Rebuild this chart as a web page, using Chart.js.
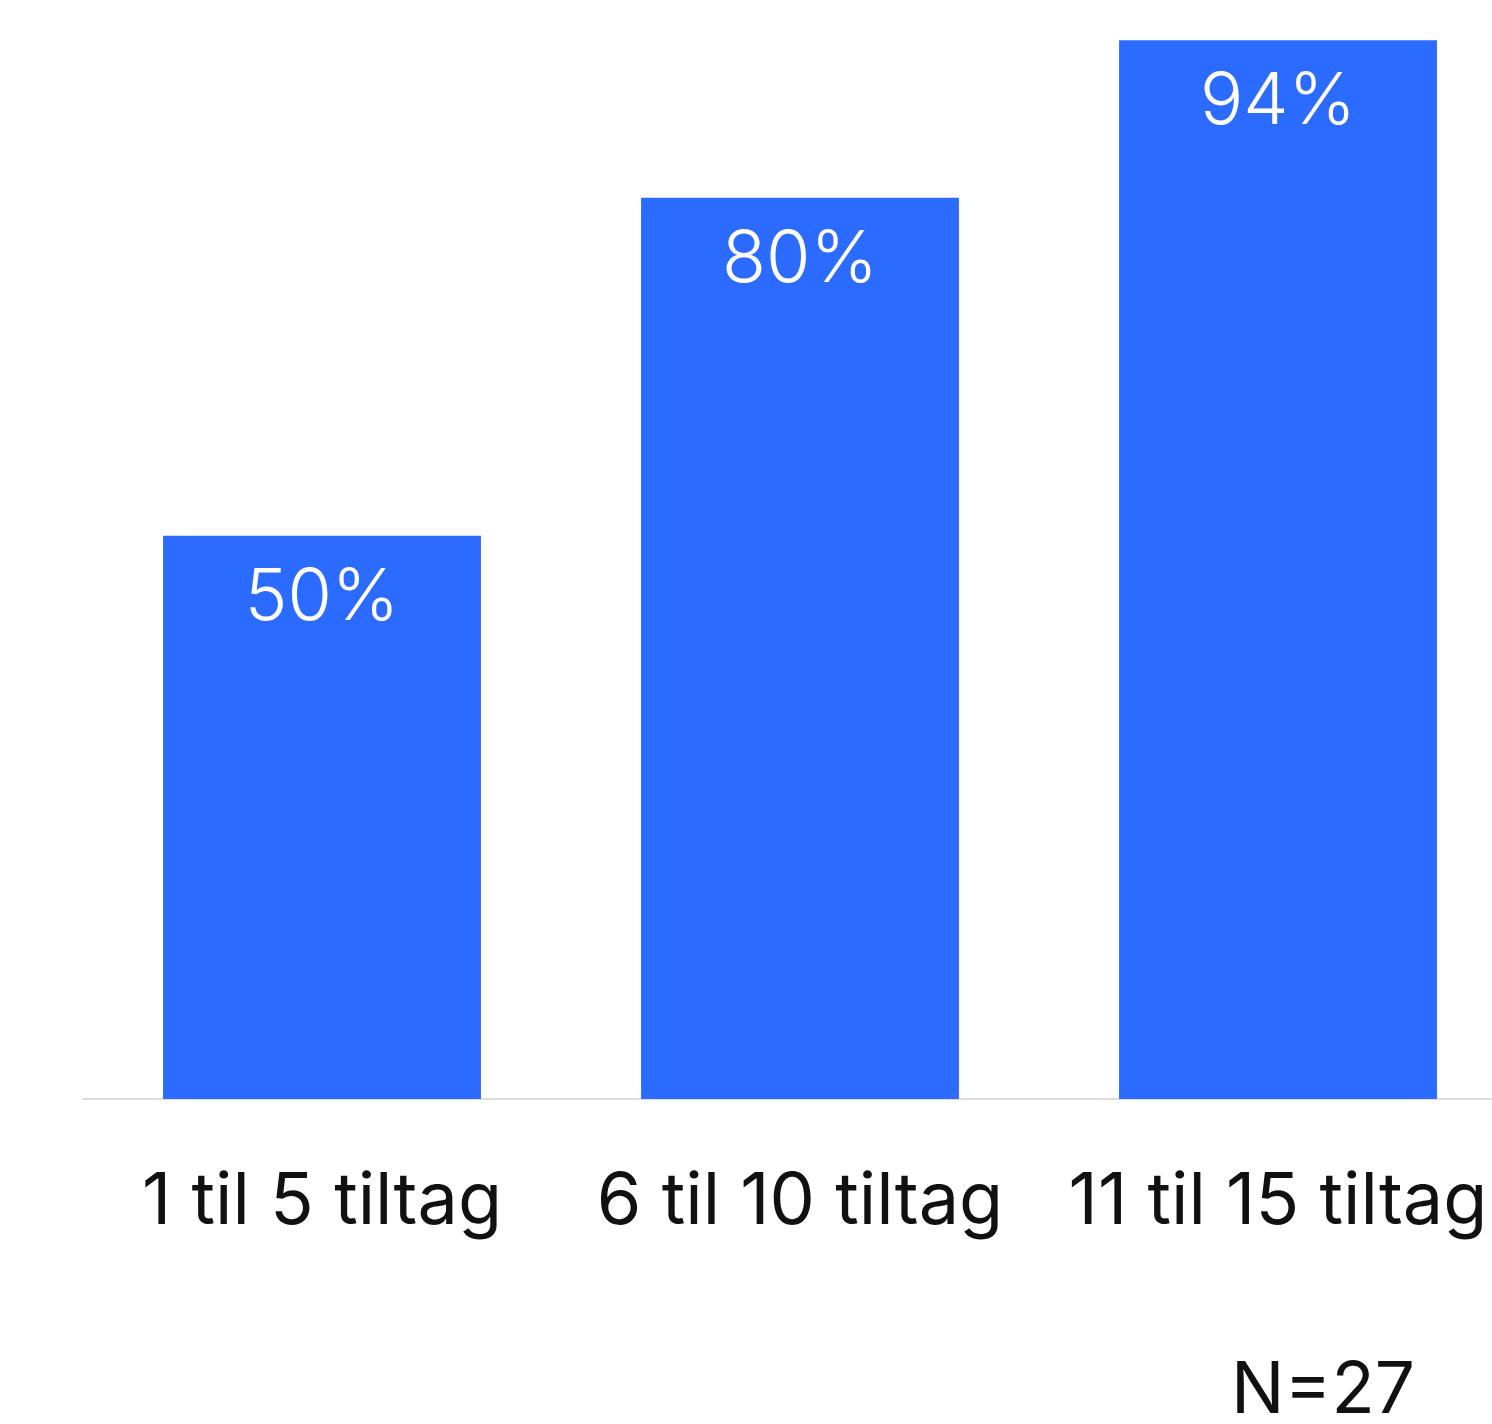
<!DOCTYPE html>
<html>
<head>
<meta charset="utf-8">
<script src="https://cdn.jsdelivr.net/npm/chart.js@4.4.0/dist/chart.umd.min.js"></script>
<style>
    html, body { margin: 0; padding: 0; background: #fff; overflow: hidden; }
    canvas { display: block; }
</style>
</head>
<body>
<canvas id="barChart" width="1517" height="1424"></canvas>
<script>
const categories = ['1 til 5 tiltag', '6 til 10 tiltag', '11 til 15 tiltag'];
const shares = [50, 80, 94];
const sampleNote = 'N=27';

const fontFamily = "Inter, 'DejaVu Sans', sans-serif";

// White percentage labels inside the top of each bar, plus the sample size note
const barLabels = {
    id: 'barLabels',
    afterDatasetsDraw(chart) {
        const ctx = chart.ctx;
        const meta = chart.getDatasetMeta(0);
        ctx.save();
        ctx.fillStyle = '#ffffff';
        ctx.font = '300 72px ' + fontFamily;
        ctx.textAlign = 'center';
        ctx.textBaseline = 'alphabetic';
        meta.data.forEach((bar, i) => {
            ctx.fillText(shares[i] + '%', bar.x, bar.y + 84);
        });
        ctx.fillStyle = '#111111';
        ctx.font = '400 71px ' + fontFamily;
        ctx.fillText(sampleNote, 1323, 1413);
        ctx.restore();
    }
};

const ctx = document.getElementById('barChart').getContext('2d');
const barChart = new Chart(ctx, {
    type: 'bar',
    data: {
        labels: categories,
        datasets: [{
            data: shares,
            backgroundColor: '#2B6BFF',
            borderWidth: 0,
            categoryPercentage: 1,
            barPercentage: 0.665
        }]
    },
    options: {
        responsive: false,
        animation: false,
        layout: {
            padding: { left: 83, top: 3, right: 0, bottom: 0 }
        },
        plugins: {
            legend: { display: false },
            tooltip: { enabled: false }
        },
        scales: {
            x: {
                grid: { display: false },
                border: { display: true, color: '#dddddd', width: 2 },
                ticks: {
                    color: '#111111',
                    padding: 52,
                    maxRotation: 0,
                    font: { family: fontFamily, size: 72, weight: '400' }
                },
                afterFit: function (scale) {
                    // fixed axis band, no extra side padding for long labels
                    scale.height = 325;
                    scale.paddingLeft = 0;
                    scale.paddingRight = 0;
                }
            },
            y: {
                min: 0,
                max: 97.3,
                display: false
            }
        }
    },
    plugins: [barLabels]
});
</script>
</body>
</html>
